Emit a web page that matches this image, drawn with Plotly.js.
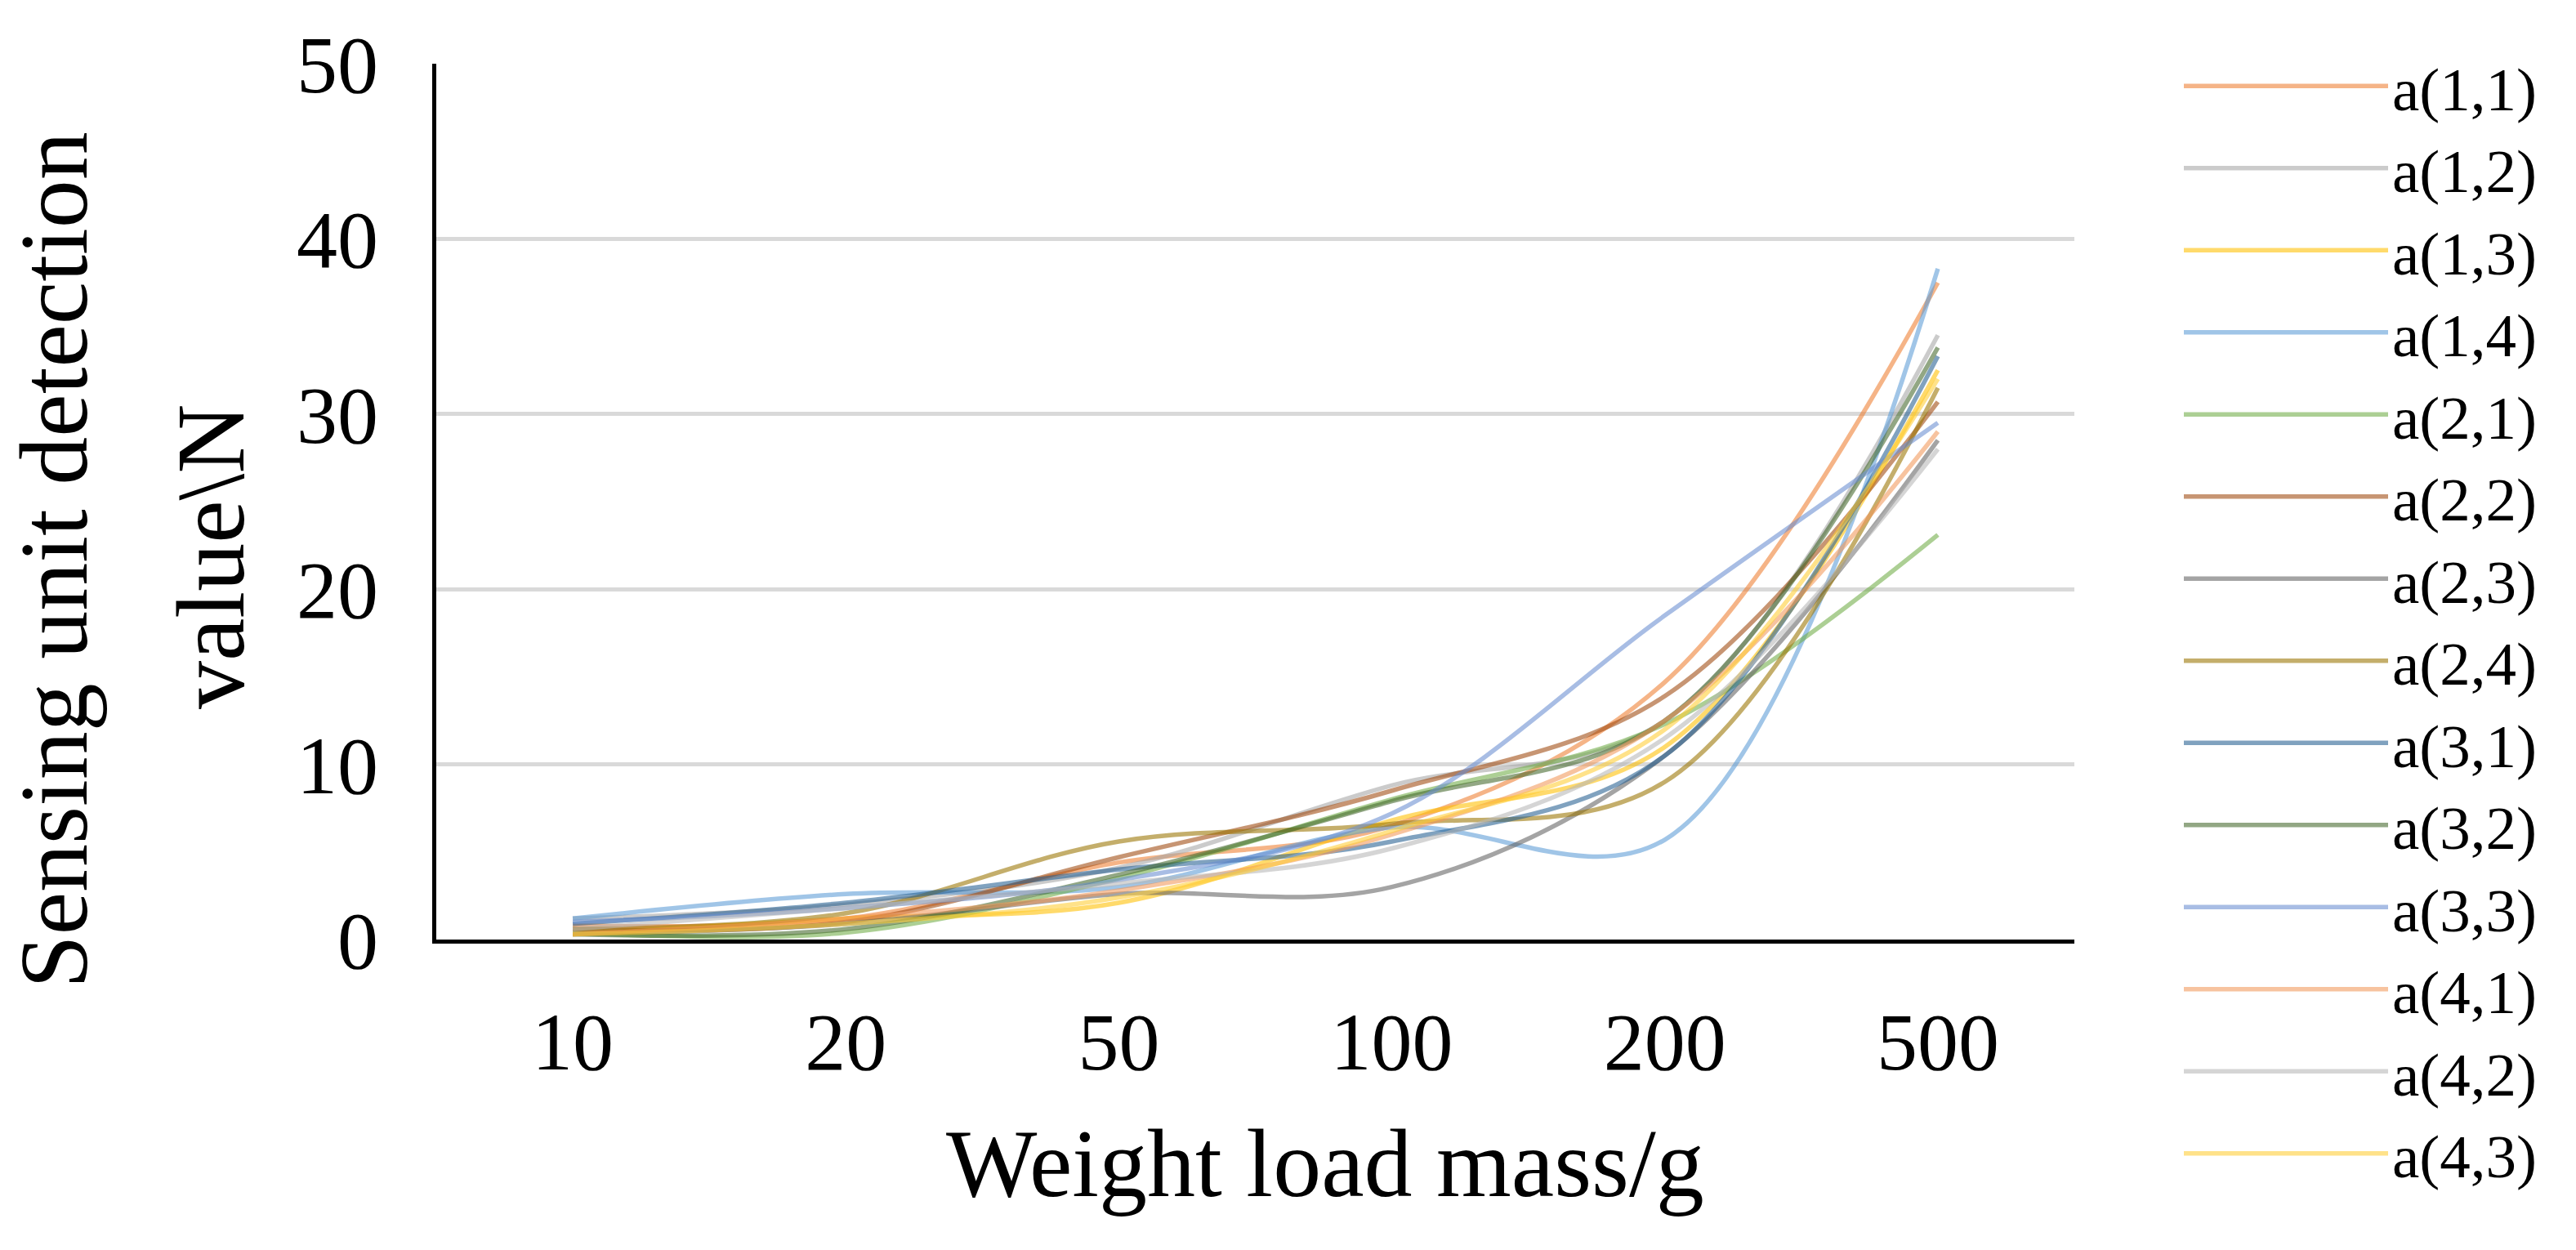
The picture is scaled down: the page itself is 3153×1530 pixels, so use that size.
<!DOCTYPE html>
<html>
<head>
<meta charset="utf-8">
<script src="https://cdn.plot.ly/plotly-3.0.1.min.js"></script>
<style>
  html, body { margin: 0; padding: 0; background: #ffffff; }
  #chart { width: 3153px; height: 1530px; }
</style>
</head>
<body>
<div id="chart"></div>
<script>
// Weight load mass categories (g)
const categories = ['10', '20', '50', '100', '200', '500'];

// Sensing unit detection values (N) per sensing unit
const a11 = [0.8, 1.2, 4.4, 6.5, 14.7, 37.5];
const a12 = [1.2, 2.0, 4.1, 8.8, 12.5, 34.5];
const a13 = [0.3, 1.2, 2.1, 6.8, 11.0, 32.5];
const a14 = [1.2, 2.6, 3.0, 6.4, 5.7, 38.3];
const a21 = [0.4, 0.4, 3.5, 8.0, 12.3, 23.1];
const a22 = [0.6, 1.0, 4.7, 8.5, 13.9, 30.7];
const a23 = [0.3, 0.9, 2.6, 3.0, 10.5, 28.5];
const a24 = [0.6, 1.5, 5.6, 6.6, 9.0, 31.5];
const a31 = [0.9, 2.1, 4.0, 5.6, 10.5, 33.3];
const a32 = [0.3, 0.6, 3.7, 7.9, 12.5, 33.8];
const a33 = [1.0, 1.8, 3.4, 7.2, 18.5, 29.5];
const a41 = [0.3, 1.2, 2.8, 6.0, 12.5, 29.0];
const a42 = [0.6, 1.8, 3.2, 5.2, 11.5, 28.0];
const a43 = [0.3, 0.9, 2.4, 6.2, 12.0, 32.0];

const seriesNames = ['a(1,1)', 'a(1,2)', 'a(1,3)', 'a(1,4)', 'a(2,1)', 'a(2,2)', 'a(2,3)',
                     'a(2,4)', 'a(3,1)', 'a(3,2)', 'a(3,3)', 'a(4,1)', 'a(4,2)', 'a(4,3)'];
const seriesValues = [a11, a12, a13, a14, a21, a22, a23, a24, a31, a32, a33, a41, a42, a43];
const seriesColors = ['rgba(237,125,49,0.58)', 'rgba(165,165,165,0.58)', 'rgba(255,192,0,0.58)',
                      'rgba(91,155,213,0.58)', 'rgba(112,173,71,0.58)', 'rgba(158,72,14,0.58)',
                      'rgba(99,99,99,0.58)', 'rgba(153,115,0,0.58)', 'rgba(37,94,145,0.58)',
                      'rgba(67,104,43,0.58)', 'rgba(105,142,208,0.58)', 'rgba(241,151,90,0.58)',
                      'rgba(183,183,183,0.58)', 'rgba(255,205,51,0.58)'];

const xTitle = 'Weight load mass/g';
const yTitleLine1 = 'Sensing unit detection';
const yTitleLine2 = 'value\\N';

const serif = 'Liberation Serif, Times New Roman, serif';

const traces = seriesNames.map((name, i) => ({
  type: 'scatter',
  mode: 'lines',
  name: name,
  x: categories,
  y: seriesValues[i],
  line: { color: seriesColors[i], width: 5.5, shape: 'spline', smoothing: 1 }
}));

const L = 534, R = 614, T = 78, B = 380;
const W = 3153, H = 1530;
const pw = W - L - R, ph = H - T - B;
const px2x = p => (p - L) / pw;
const py2y = p => 1 - (p - T) / ph;

const layout = {
  width: W,
  height: H,
  margin: { l: L, r: R, t: T, b: B, pad: 0 },
  paper_bgcolor: '#ffffff',
  plot_bgcolor: '#ffffff',
  font: { family: serif, color: '#000000' },
  showlegend: true,
  legend: {
    x: px2x(2668), xanchor: 'left',
    y: py2y(50), yanchor: 'top',
    font: { family: serif, size: 75, color: '#000000' },
    itemwidth: 250,
    maxheight: 1500,
    bgcolor: 'rgba(0,0,0,0)',
    borderwidth: 0
  },
  xaxis: {
    type: 'category',
    categoryorder: 'array',
    categoryarray: categories,
    range: [-0.5, 5.5],
    showline: true,
    linecolor: '#000000',
    linewidth: 5,
    showgrid: false,
    zeroline: false,
    ticks: '',
    ticklabelstandoff: 34,
    tickfont: { family: serif, size: 100, color: '#000000' },
    fixedrange: true
  },
  yaxis: {
    range: [0, 50],
    dtick: 10,
    tick0: 0,
    showline: true,
    linecolor: '#000000',
    linewidth: 5,
    showgrid: true,
    gridcolor: '#D9D9D9',
    gridwidth: 5,
    zeroline: false,
    ticks: '',
    ticklabelstandoff: 46,
    tickfont: { family: serif, size: 100, color: '#000000' },
    fixedrange: true
  },
  annotations: [
    {
      xref: 'paper', yref: 'paper',
      x: px2x(1622), y: py2y(1424),
      xanchor: 'center', yanchor: 'middle',
      text: xTitle, showarrow: false,
      font: { family: serif, size: 118, color: '#000000' }
    },
    {
      xref: 'paper', yref: 'paper',
      x: px2x(66), y: py2y(686),
      xanchor: 'center', yanchor: 'middle',
      textangle: -90,
      text: yTitleLine1, showarrow: false,
      font: { family: serif, size: 118, color: '#000000' }
    },
    {
      xref: 'paper', yref: 'paper',
      x: px2x(258), y: py2y(681),
      xanchor: 'center', yanchor: 'middle',
      textangle: -90,
      text: yTitleLine2, showarrow: false,
      font: { family: serif, size: 118, color: '#000000' }
    }
  ]
};

Plotly.newPlot('chart', traces, layout, { displayModeBar: false, staticPlot: true });
</script>
</body>
</html>
